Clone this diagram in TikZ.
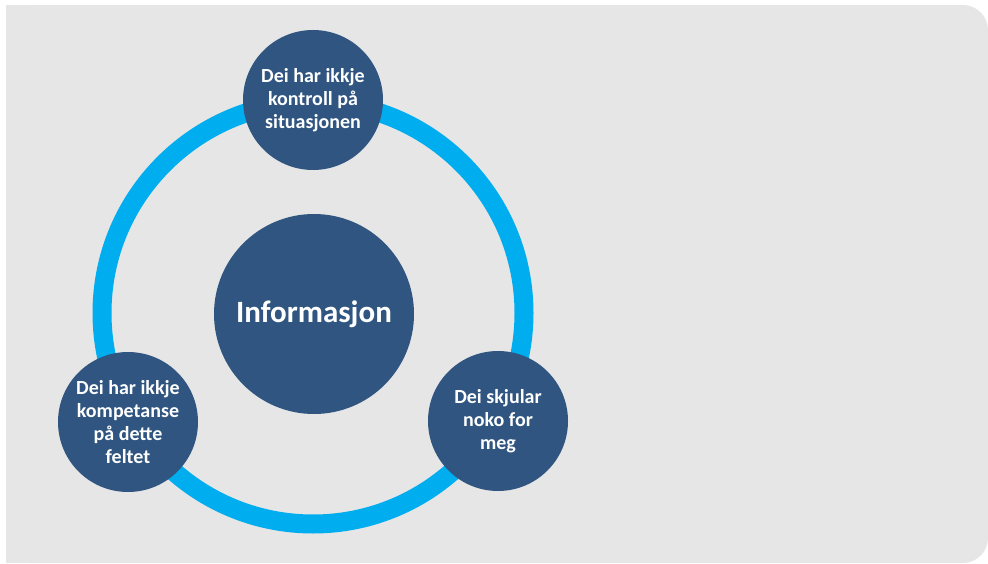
\documentclass[tikz,border=0pt]{standalone}
\usepackage{fontspec}
\setmainfont{Carlito}
\usepackage{xcolor}
\definecolor{panel_grey}{HTML}{E6E6E7}
\definecolor{ring_blue}{HTML}{00AEEF}
\definecolor{topic_blue}{HTML}{2F5580}
\tikzstyle{topic} =
  [ circle
  , fill=topic_blue
  , text=white
  , minimum size=140pt
  , inner sep=0pt
  , align=center
  , font=\bfseries\fontsize{20}{23}\selectfont
  ]
\tikzstyle{core} =
  [ circle
  , fill=topic_blue
  , text=white
  , minimum size=200pt
  , inner sep=0pt
  , font=\bfseries\fontsize{31}{33}\selectfont
  ]
\tikzstyle{ring} =
  [ draw=ring_blue
  , line width=19pt
  ]

\begin{document}
\begin{tikzpicture}[x=1pt,y=-1pt]
    \useasboundingbox (0,0) rectangle (988,564);

    % Panel behind the cycle
    \fill[panel_grey, rounded corners=25pt] (6,5) rectangle (988,563);
    \fill[panel_grey] (6,5) rectangle (100,563);

    % Cycle
    \coordinate (centre) at (313,313);
    \draw[ring] (centre) circle (211pt);

    \node[core]  (info)       at (314,314) {Informasjon};
    \node[topic] (control)    at (313,100) {Dei har ikkje\\kontroll på\\situasjonen};
    \node[topic] (competence) at (128,422) {Dei har ikkje\\kompetanse\\på dette\\feltet};
    \node[topic] (hiding)     at (498,421) {Dei skjular\\noko for\\meg};
\end{tikzpicture}
\end{document}
